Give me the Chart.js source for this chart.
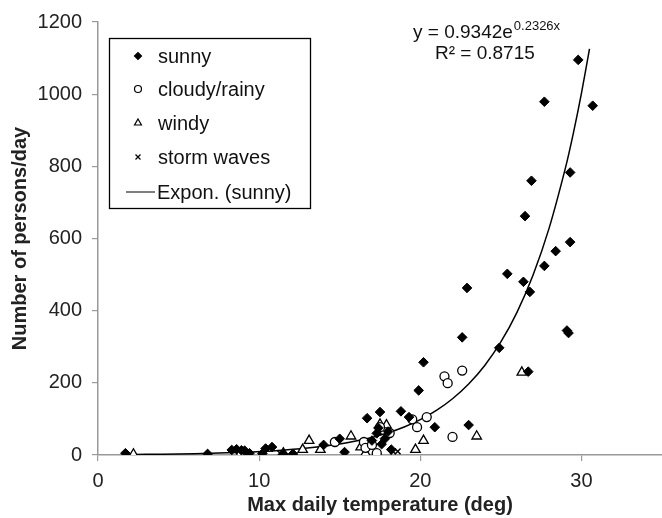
<!DOCTYPE html>
<html><head><meta charset="utf-8">
<script src="https://cdn.jsdelivr.net/npm/chart.js@4"></script>
<style>html,body{margin:0;padding:0;background:#fff}#wrap{width:662px;height:518px;position:relative}</style>
</head><body><div id="wrap"><canvas id="c" width="662" height="518"></canvas></div>
<script>
// ---- data ----
const sunny = [
  [1.7,5],[6.8,3],[8.3,14],[8.6,16],[8.9,13],[9.1,12],[9.4,5],[10.2,4],[10.4,18],[10.8,22],
  [11.5,3],[12.1,3],[14.0,28],[15.0,45],[15.3,8],[16.7,102],[17.0,40],[17.3,60],[17.4,75],
  [17.5,119],[17.6,30],[17.8,45],[18.0,65],[18.2,15],[18.8,121],[19.3,105],[19.9,179],
  [20.2,257],[20.9,77],[22.6,326],[22.9,463],[23.0,83],[24.9,297],[25.4,502],[26.4,480],
  [26.5,662],[26.8,452],[26.7,231],[26.9,760],[27.7,524],[27.7,979],[28.4,565],[29.1,345],
  [29.2,338],[29.3,590],[29.3,783],[29.8,1095],[30.7,968]
];
const cloudy = [
  [8.9,2],[14.7,36],[16.5,36],[16.6,20],[17.0,28],[17.3,5],[17.5,77],[18.1,61],[19.5,99],
  [19.8,77],[20.4,105],[21.5,218],[21.7,199],[22.0,50],[22.6,234]
];
const windy = [
  [2.2,2],[11.5,5],[12.7,15],[13.1,40],[13.8,15],[15.7,52],[16.3,22],[16.6,5],[17.3,2],
  [17.5,85],[17.9,83],[19.7,15],[20.2,40],[23.5,52],[26.3,229]
];
const stormWaves = [[11.3,5],[18.3,10],[18.6,10]];
// trendline as printed on the chart: y = 0.9342 e^(0.2326 x)
const trendA = 0.9342, trendB = 0.2326;
const trendX = [1.7,3,5,7,9,11,13,15,16,17,18,19,20,21,22,23,24,25,26,27,28,29,29.5,30,30.5];
const xTicks = [0,10,20,30];
const yTicks = [0,200,400,600,800,1000,1200];
const legendLabels = ['sunny','cloudy/rainy','windy','storm waves','Expon. (sunny)'];
const eqMain = 'y = 0.9342e', eqExp = '0.2326x', eqR2 = 'R² = 0.8715';

const toPts = a => a.map(p => ({x:p[0], y:p[1]}));
const FONT = '"Liberation Sans", Arial, sans-serif';

const ds = [
  {label:legendLabels[0], data:toPts(sunny), pointStyle:'rectRot', pointRadius:4.8, backgroundColor:'#000', borderColor:'#000', borderWidth:1},
  {label:legendLabels[1], data:toPts(cloudy), pointStyle:'circle', pointRadius:4.5, backgroundColor:'#fff', borderColor:'#000', borderWidth:1.3},
  {label:legendLabels[2], data:toPts(windy), pointStyle:'triangle', pointRadius:5.5, backgroundColor:'#fff', borderColor:'#000', borderWidth:1.3},
  {label:legendLabels[3], data:toPts(stormWaves), pointStyle:'crossRot', pointRadius:4, backgroundColor:'#000', borderColor:'#000', borderWidth:1.5},
  {label:legendLabels[4], type:'line', data:trendX.map(x=>({x, y:trendA*Math.exp(trendB*x)})), borderColor:'#000', borderWidth:1.5, pointRadius:0, fill:false, tension:0.3}
];

const overlay = {
  id:'overlay',
  afterDraw(chart){
    const ctx = chart.ctx;
    ctx.save();
    ctx.strokeStyle = '#000'; ctx.lineWidth = 1.3;
    ctx.fillStyle = '#fff';
    ctx.fillRect(109.5, 38.5, 201, 170);
    ctx.strokeRect(109.5, 38.5, 201, 170);
    const rows = [56, 89, 123, 157, 192];
    ctx.font = '20px ' + FONT; ctx.textBaseline = 'middle'; ctx.textAlign = 'left';
    rows.forEach((ry, i) => {
      const d = chart.data.datasets[i];
      if (i < 4) {
        ctx.fillStyle = d.backgroundColor; ctx.strokeStyle = d.borderColor; ctx.lineWidth = 1.2;
        Chart.helpers.drawPoint(ctx, {pointStyle:d.pointStyle, radius: i===2?4:3.5, borderWidth:1.2, rotation:0}, 138, ry);
      } else {
        ctx.strokeStyle = '#555'; ctx.lineWidth = 1.5;
        ctx.beginPath(); ctx.moveTo(126, ry); ctx.lineTo(155, ry); ctx.stroke();
      }
      ctx.fillStyle = '#111';
      ctx.fillText(d.label, i < 4 ? 158 : 157, ry + 1);
    });
    // equation
    ctx.fillStyle = '#111';
    ctx.font = '19px ' + FONT;
    ctx.fillText(eqMain, 413, 33);
    const w = ctx.measureText(eqMain).width;
    ctx.font = '13px ' + FONT;
    ctx.fillText(eqExp, 413 + w + 1, 26);
    ctx.font = '19px ' + FONT;
    ctx.fillText(eqR2, 435, 54);
    ctx.restore();
  }
};

new Chart(document.getElementById('c'), {
  type:'scatter',
  data:{datasets:ds},
  options:{
    responsive:false, animation:false, devicePixelRatio:1,
    layout:{autoPadding:false, padding:{top:20, right:0, left:0, bottom:0}},
    plugins:{legend:{display:false}, tooltip:{enabled:false}},
    scales:{
      x:{
        type:'linear', min:0, max:35,
        afterBuildTicks: s => { s.ticks = xTicks.map(v => ({value:v})); },
        afterFit: s => { s.height = 63; },
        grid:{drawOnChartArea:false, drawTicks:true, tickLength:6, color:'#999', lineWidth:1.2},
        border:{color:'#999', width:1.5},
        ticks:{font:{size:20, family:FONT}, color:'#222', padding:8, maxRotation:0, callback: v => String(v)},
        title:{display:true, text:'Max daily temperature (deg)', font:{size:20, weight:'bold', family:FONT}, color:'#222', padding:{top:0, bottom:1}}
      },
      y:{
        type:'linear', min:0, max:1200,
        afterBuildTicks: s => { s.ticks = yTicks.map(v => ({value:v})); },
        afterFit: s => { s.width = 98; },
        grid:{drawOnChartArea:false, drawTicks:true, tickLength:6, color:'#999', lineWidth:1.2},
        border:{color:'#999', width:1.5},
        ticks:{font:{size:20, family:FONT}, color:'#222', padding:10, callback: v => String(v)},
        title:{display:true, text:'Number of persons/day', font:{size:20, weight:'bold', family:FONT}, color:'#222', padding:{top:8, bottom:0}}
      }
    }
  },
  plugins:[overlay]
});
</script>
</body></html>
